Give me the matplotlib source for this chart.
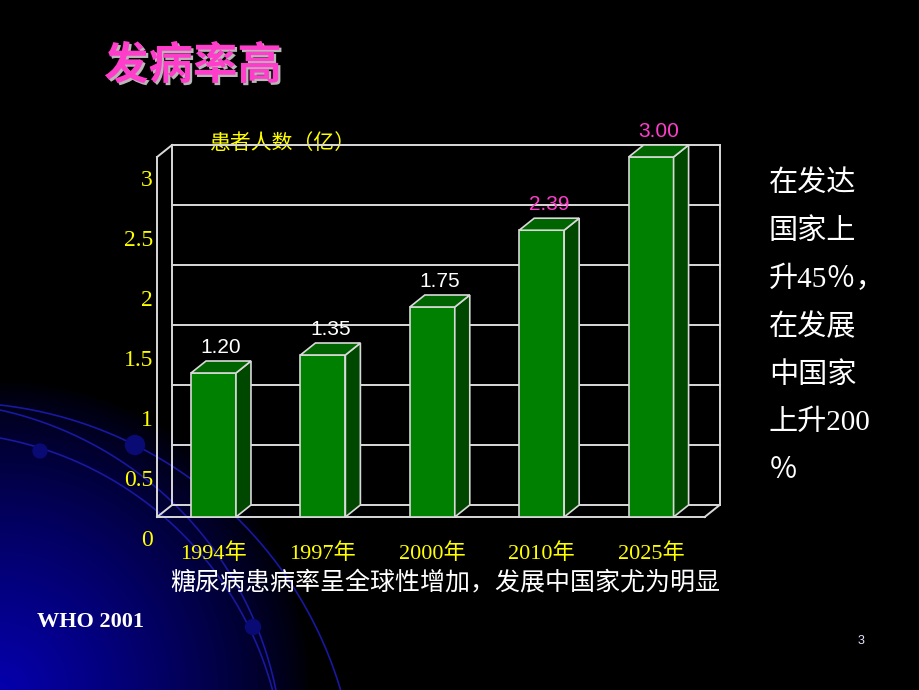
import numpy as np
import matplotlib
matplotlib.use('Agg')
import matplotlib.pyplot as plt
import matplotlib.patheffects as pe
from matplotlib.patches import Polygon, Circle
from matplotlib.transforms import ScaledTranslation

# chart data
years = ['1994年', '1997年', '2000年', '2010年', '2025年']
patients = [1.20, 1.35, 1.75, 2.39, 3.00]
value_labels = ['1.20', '1.35', '1.75', '2.39', '3.00']
yticks = [0, 0.5, 1, 1.5, 2, 2.5, 3]
ytick_labels = ['0', '0.5', '1', '1.5', '2', '2.5', '3']
side_note = ['在发达', '国家上', '升45％，', '在发展', '中国家', '上升200', '％']

# colours
YELLOW = '#FFFF00'
PINK = '#FF3DCB'
GRID = '#D9D9D9'
label_colors = ['white', 'white', 'white', PINK, PINK]

SERIF_CJK = ['Liberation Serif', 'Noto Sans CJK SC']

# layout (pixels of the 920x690 slide)
X0_PX, STEP_PX = 213.5, 109.4   # category 0 centre, distance between categories
Y0_PX, UNIT_PX = 517, 120       # value 0, pixels per unit
XLIM = (-0.516, 4.8)
YLIM = (0, 3.4)
DX, DY = 15 / STEP_PX, 12 / UNIT_PX  # 3d depth
BAR_W = 0.411


def circle_arc(p1, p2, p3, n=300, ext=0.2):
    (x1, y1), (x2, y2), (x3, y3) = p1, p2, p3
    a = np.array([[x2 - x1, y2 - y1], [x3 - x2, y3 - y2]])
    b = 0.5 * np.array([x2**2 - x1**2 + y2**2 - y1**2, x3**2 - x2**2 + y3**2 - y2**2])
    cx, cy = np.linalg.solve(a, b)
    r = np.hypot(x1 - cx, y1 - cy)
    t1 = np.arctan2(y1 - cy, x1 - cx)
    t3 = np.arctan2(y3 - cy, x3 - cx)
    t = np.linspace(t1 - ext, t3 + ext, n)
    return cx + r * np.cos(t), cy + r * np.sin(t)


fig = plt.figure(figsize=(9.2, 6.9), dpi=100, facecolor='black')

# ---- slide background ----
bg = fig.add_axes([0, 0, 1, 1])
bg.set_xlim(0, 920)
bg.set_ylim(690, 0)
bg.axis('off')
yy, xx = np.mgrid[0:690, 0:920]
d = np.hypot(xx, 690 - yy)
glow = np.clip(1 - d / 310, 0, 1) ** 0.75
img = np.zeros((690, 920, 3))
img[..., 2] = glow * 0.68
img[..., 0] = glow * 0.02
bg.imshow(img, extent=[0, 920, 690, 0], aspect='auto', interpolation='bilinear', zorder=0)

for pts in [((0, 405), (135, 445), (340, 688)),
            ((0, 410), (187, 517), (273, 677)),
            ((0, 438), (133, 493), (263, 660))]:
    ax_, ay_ = circle_arc(*pts)
    bg.plot(ax_, ay_, color='#1818A0', lw=1.2, zorder=1)
for cx, cy, r in [(135, 445, 9.5), (40, 451, 7), (253, 627, 7.5)]:
    bg.add_patch(Circle((cx, cy), r, color='#0A0A74', zorder=2))

bg.text(193, 66, '发病率高', fontsize=32, fontweight='bold', color=PINK,
        family='Noto Sans CJK SC', ha='center', va='center',
        path_effects=[pe.withSimplePatchShadow(offset=(1.6, -1.6), shadow_rgbFace='#B8B8B8', alpha=1)])
bg.text(283, 143, '患者人数（亿）', fontsize=15, color=YELLOW,
        family='Noto Sans CJK SC', ha='center', va='center')
for i, line in enumerate(side_note):
    bg.text(769, 184 + i * 47.8, line, fontsize=21, color='white',
            family=SERIF_CJK, ha='left', va='center')
bg.text(445, 582, '糖尿病患病率呈全球性增加，发展中国家尤为明显', fontsize=18,
        color='white', family='Noto Sans CJK SC', ha='center', va='center')
bg.text(91, 622, 'WHO 2001', fontsize=16, fontweight='bold', color='white',
        family='Liberation Serif', ha='center', va='center')
bg.text(861, 641, '3', fontsize=9, color='#E6E6FF', family='Liberation Sans',
        ha='center', va='center')

# ---- chart ----
left_px = X0_PX + XLIM[0] * STEP_PX
right_px = X0_PX + XLIM[1] * STEP_PX
ax = fig.add_axes([left_px / 920, (690 - Y0_PX) / 690,
                   (right_px - left_px) / 920, (YLIM[1] - YLIM[0]) * UNIT_PX / 690])
ax.set_xlim(*XLIM)
ax.set_ylim(*YLIM)
ax.set_facecolor('none')
for s in ax.spines.values():
    s.set_visible(False)

xf0, xf1 = XLIM[0], 4.49
xb0, xb1 = xf0 + DX, xf1 + DX
top = yticks[-1]
kw = dict(color=GRID, lw=1.4, zorder=1, clip_on=False, solid_capstyle='projecting')
# back wall with gridlines
for v in yticks:
    ax.plot([xb0, xb1], [v + DY, v + DY], **kw)
ax.plot([xb0, xb0], [DY, top + DY], **kw)
ax.plot([xb1, xb1], [DY, top + DY], **kw)
# left wall and floor
ax.plot([xf0, xf0], [0, top], **kw)
ax.plot([xf0, xb0], [top, top + DY], **kw)
ax.plot([xf0, xb0], [0, DY], **kw)
ax.plot([xf0, xf1], [0, 0], **kw)
ax.plot([xf1, xb1], [0, DY], **kw)

x = np.arange(len(years))
ax.bar(x, patients, width=BAR_W, color='#008000', edgecolor=GRID, lw=1.2,
       zorder=3, clip_on=False)
for xi, v in zip(x, patients):
    r, l = xi + BAR_W / 2, xi - BAR_W / 2
    side = [(r, 0), (r + DX, DY), (r + DX, v + DY), (r, v)]
    roof = [(l, v), (l + DX, v + DY), (r + DX, v + DY), (r, v)]
    ax.add_patch(Polygon(side, closed=True, facecolor='#004800', edgecolor=GRID,
                         lw=1.2, zorder=3, clip_on=False))
    ax.add_patch(Polygon(roof, closed=True, facecolor='#006400', edgecolor=GRID,
                         lw=1.2, zorder=3, clip_on=False))

for xi, v, txt, c in zip(x, patients, value_labels, label_colors):
    ax.annotate(txt, (xi + DX / 2, v + DY), xytext=(0, 10), textcoords='offset points',
                ha='center', va='center', fontsize=15, color=c, family='Liberation Sans')

ax.set_xticks(x, years)
ax.set_yticks(yticks, ytick_labels)
ax.tick_params(axis='both', length=0, colors=YELLOW)
ax.tick_params(axis='x', pad=19)
ax.tick_params(axis='y', pad=3)
for lbl in ax.get_yticklabels():
    lbl.set_fontfamily(SERIF_CJK)
    lbl.set_fontsize(17)
for lbl in ax.get_xticklabels():
    lbl.set_fontfamily(SERIF_CJK)
    lbl.set_fontsize(16)
shift = ScaledTranslation(0, -21 / 100, fig.dpi_scale_trans)
for lbl in ax.get_yticklabels():
    lbl.set_transform(lbl.get_transform() + shift)

fig.savefig('out.png', dpi=100, facecolor='black')
